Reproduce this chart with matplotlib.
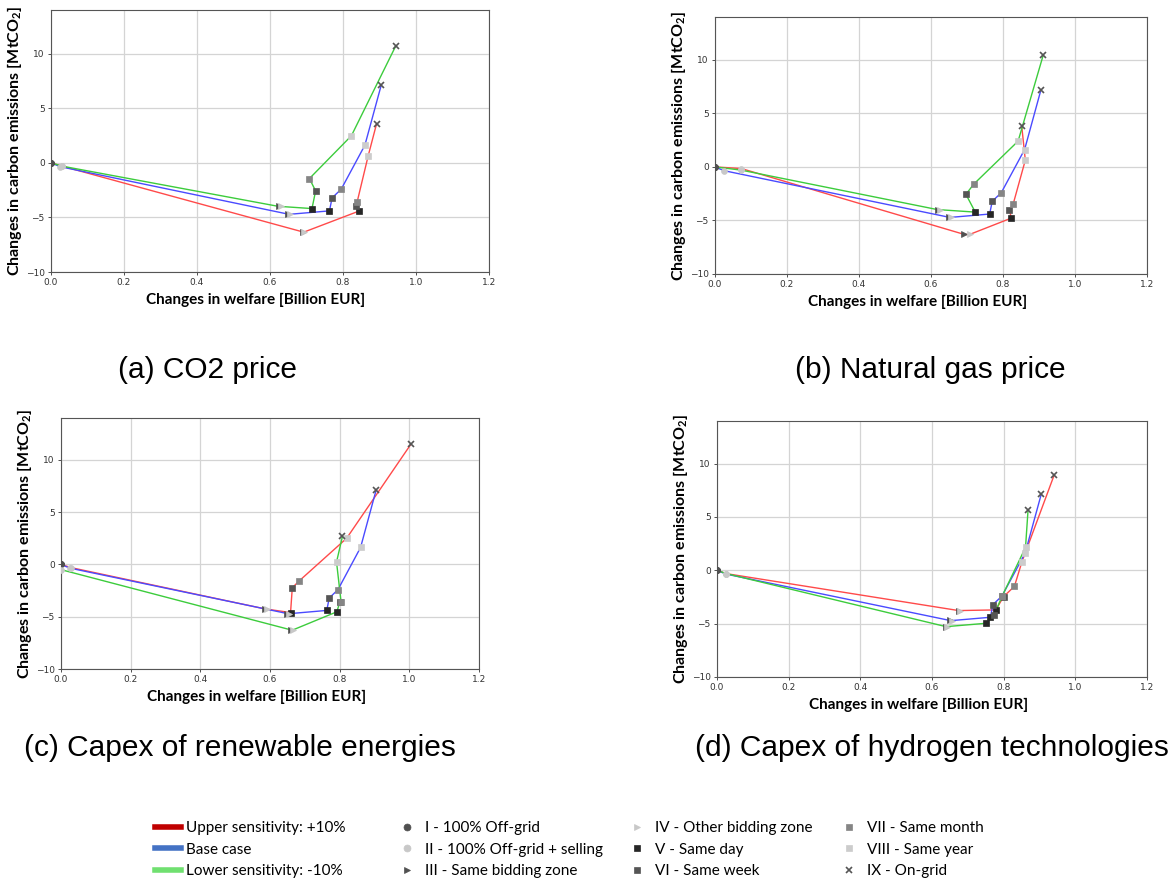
import matplotlib
matplotlib.use('Agg')
import matplotlib.pyplot as plt
from matplotlib.lines import Line2D

# configurations I..IX (order of points along every line)
config_labels = ['I - 100% Off-grid', 'II - 100% Off-grid + selling', 'III - Same bidding zone',
                 'IV - Other bidding zone', 'V - Same day', 'VI - Same week',
                 'VII - Same month', 'VIII - Same year', 'IX - On-grid']
scenario_labels = ['Upper sensitivity: +10%', 'Base case', 'Lower sensitivity: -10%']

# base case (same in all four panels)
base_x = [0.0, 0.025, 0.650, 0.655, 0.763, 0.770, 0.795, 0.860, 0.905]
base_y = [0.0, -0.35, -4.70, -4.71, -4.40, -3.21, -2.42, 1.62, 7.15]

# (a) CO2 price
co2_up_x = [0.0, 0.030, 0.690, 0.694, 0.843, 0.835, 0.839, 0.869, 0.892]
co2_up_y = [0.0, -0.30, -6.33, -6.33, -4.43, -4.00, -3.55, 0.64, 3.58]
co2_low_x = [0.0, 0.030, 0.625, 0.631, 0.715, 0.725, 0.708, 0.823, 0.944]
co2_low_y = [0.0, -0.30, -4.00, -4.00, -4.19, -2.57, -1.44, 2.48, 10.67]

# (b) natural gas price
gas_up_x = [0.0, 0.073, 0.693, 0.707, 0.823, 0.818, 0.828, 0.862, 0.852]
gas_up_y = [0.0, -0.15, -6.31, -6.31, -4.78, -4.00, -3.50, 0.63, 3.81]
gas_low_x = [0.0, 0.073, 0.620, 0.625, 0.723, 0.697, 0.719, 0.842, 0.912]
gas_low_y = [0.0, -0.30, -4.00, -4.00, -4.22, -2.56, -1.60, 2.41, 10.47]

# (c) capex of renewable energies
res_up_x = [0.0, 0.028, 0.585, 0.591, 0.659, 0.664, 0.683, 0.820, 1.004]
res_up_y = [0.0, -0.30, -4.25, -4.28, -4.60, -2.23, -1.60, 2.50, 11.47]
res_low_x = [0.0, 0.0, 0.660, 0.666, 0.792, 0.800, 0.804, 0.791, 0.808]
res_low_y = [0.0, -0.50, -6.26, -6.26, -4.53, -3.64, -3.58, 0.23, 2.68]

# (d) capex of hydrogen technologies
h2_up_x = [0.0, 0.026, 0.674, 0.678, 0.778, 0.800, 0.830, 0.851, 0.941]
h2_up_y = [0.0, -0.31, -3.77, -3.77, -3.71, -2.46, -1.50, 0.80, 8.94]
h2_low_x = [0.0, 0.026, 0.638, 0.643, 0.752, 0.773, 0.796, 0.861, 0.868]
h2_low_y = [0.0, -0.31, -5.27, -5.27, -4.96, -4.18, -2.40, 2.15, 5.64]

captions = ['(a) CO2 price', '(b) Natural gas price',
            '(c) Capex of renewable energies', '(d) Capex of hydrogen technologies']

panels = [(co2_up_x, co2_up_y, co2_low_x, co2_low_y),
          (gas_up_x, gas_up_y, gas_low_x, gas_low_y),
          (res_up_x, res_up_y, res_low_x, res_low_y),
          (h2_up_x, h2_up_y, h2_low_x, h2_low_y)]

line_colors = ['#ff4a4a', '#4a4aff', '#3ccc3c']
legend_colors = ['#c00000', '#4472c4', '#70e070']
markers = ['o', 'o', '>', '>', 's', 's', 's', 's', 'x']
marker_colors = ['#505050', '#c8c8c8', '#505050', '#c8c8c8', '#262626',
                 '#555555', '#858585', '#cccccc', '#555555']

plt.rcParams['mathtext.default'] = 'regular'

fig = plt.figure(figsize=(11.73, 8.8), dpi=100)
W, H = 1173.0, 880.0
# axes boxes in pixels: left, top, right, bottom
boxes = [(51, 10, 489, 272), (715, 17, 1147, 274),
         (61, 418, 479, 669), (717, 421, 1147, 677)]
caption_pos = [(207, 370), (930, 370), (240, 748), (932, 748)]

for k, (ux, uy, lx, ly) in enumerate(panels):
    l, t, r, b = boxes[k]
    ax = fig.add_axes([l / W, 1 - b / H, (r - l) / W, (b - t) / H])
    for xs, ys, c in [(ux, uy, line_colors[0]), (base_x, base_y, line_colors[1]),
                      (lx, ly, line_colors[2])]:
        ax.plot(xs, ys, color=c, lw=1.0, zorder=2)
        for i in range(len(xs)):
            ax.plot(xs[i], ys[i], ls='none', marker=markers[i], color=marker_colors[i],
                    ms=4.2 if markers[i] != 'x' else 4.5, mew=1.2 if markers[i] == 'x' else 0.5,
                    zorder=3)
    ax.set_xlim(0, 1.2)
    ax.set_ylim(-10, 14)
    ax.set_xticks([0.0, 0.2, 0.4, 0.6, 0.8, 1.0, 1.2])
    ax.set_yticks([-10, -5, 0, 5, 10])
    ax.grid(True, color='#d4d4d4', lw=0.9)
    ax.set_axisbelow(True)
    for s in ax.spines.values():
        s.set_color('#555555')
        s.set_linewidth(0.8)
    ax.tick_params(labelsize=6.5, colors='#333333', length=2, width=0.6, pad=2.5)
    ax.set_xlabel('Changes in welfare [Billion EUR]', fontsize=11, fontweight='bold',
                  family='Lato', labelpad=4)
    ax.xaxis.label.set_x(0.468)
    ax.set_ylabel('Changes in carbon emissions [MtCO$_2$]', fontsize=11.5, fontweight='bold',
                  family='Lato', labelpad=1)
    cx, cy = caption_pos[k]
    fig.text(cx / W, 1 - cy / H, captions[k], ha='center', va='center', fontsize=21.5,
             family='Liberation Sans')

# legend: four columns
scen_handles = [Line2D([], [], color=c, lw=4) for c in legend_colors]
mark_handles = [Line2D([], [], ls='none', marker=m, color=c, ms=5, mew=1.2 if m == 'x' else 0.5)
                for m, c in zip(markers, marker_colors)]
columns = [(scen_handles, scenario_labels, 155),
           (mark_handles[0:3], config_labels[0:3], 394),
           (mark_handles[3:6], config_labels[3:6], 624),
           (mark_handles[6:9], config_labels[6:9], 836)]
for hs, labs, x0 in columns:
    fig.legend(hs, labs, loc='upper left', bbox_to_anchor=(x0 / W, 1 - 821 / H),
               frameon=False, borderpad=0, borderaxespad=0, handlelength=1.7,
               handletextpad=0.35, labelspacing=0.5,
               prop={'family': 'Lato', 'size': 11})

fig.savefig('out.png', dpi=100)
